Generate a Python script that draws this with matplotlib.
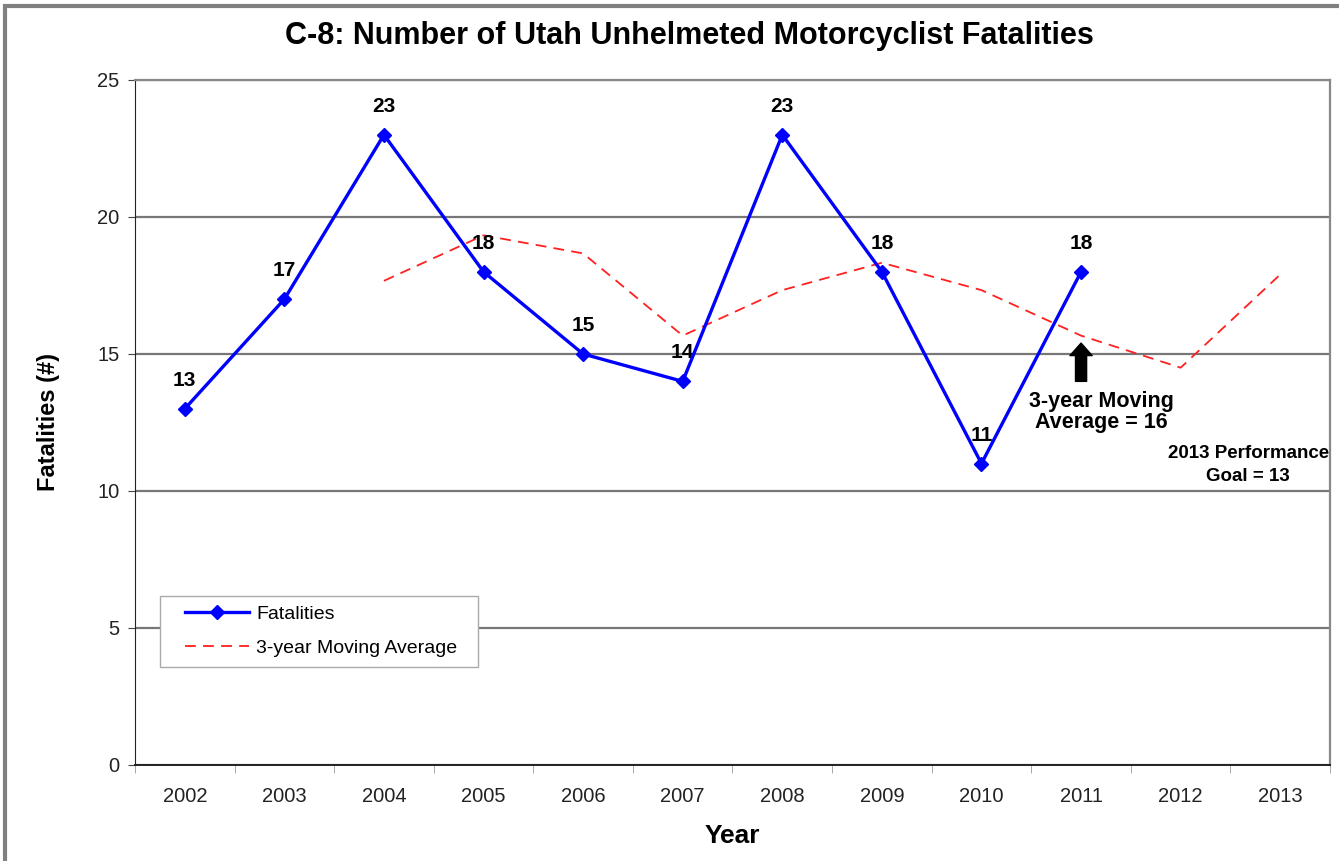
import matplotlib.pyplot as plt
from matplotlib.patches import Rectangle

years = ['2002', '2003', '2004', '2005', '2006', '2007',
         '2008', '2009', '2010', '2011', '2012', '2013']
fatalities = [13, 17, 23, 18, 15, 14, 23, 18, 11, 18]
moving_avg = [17.67, 19.33, 18.67, 15.67, 17.33, 18.33, 17.33, 15.67, 14.5, 17.9]
avg_start = 2  # moving average begins at 2004

plt.rcParams['font.family'] = ['Liberation Sans', 'DejaVu Sans']

fig = plt.figure(figsize=(13.39, 8.61), dpi=100)
ax = fig.add_axes([0.1008, 0.1115, 0.8925, 0.7956])

x_f = list(range(len(fatalities)))
x_m = list(range(avg_start, avg_start + len(moving_avg)))

ax.plot(x_f, fatalities, color='#0000ff', lw=2.4, marker='D', ms=7,
        label='Fatalities', zorder=4)
ax.plot(x_m, moving_avg, color='#ff2020', lw=1.3, dashes=(6, 4),
        label='3-year Moving Average', zorder=3)

for x, v in zip(x_f, fatalities):
    ax.annotate(str(v), (x, v), xytext=(0, 20.5), textcoords='offset points',
                ha='center', va='center', fontsize=15, fontweight='bold')

ax.set_xlim(-0.5, len(years) - 0.5)
ax.set_ylim(0, 25)
ax.set_yticks(range(0, 26, 5))
ax.set_xticks(range(len(years)))
ax.set_xticklabels(years)
ax.set_xticks([i - 0.5 for i in range(len(years) + 1)], minor=True)
ax.tick_params(axis='x', which='major', length=0, pad=16, labelsize=14.5, colors='#222222')
ax.tick_params(axis='x', which='minor', length=6, color='#999999')
ax.tick_params(axis='y', length=5, labelsize=14.5, colors='#444444',
               labelcolor='#222222', pad=6)

ax.yaxis.grid(True, color='#777777', lw=1.6)
ax.set_axisbelow(True)
for side in ['top', 'right']:
    ax.spines[side].set_color('#888888')
    ax.spines[side].set_linewidth(1.6)
ax.spines['left'].set_color('#222222')
ax.spines['bottom'].set_color('#222222')
ax.spines['bottom'].set_linewidth(1.4)

ax.set_xlabel('Year', fontsize=19, fontweight='bold', labelpad=13)
ax.set_ylabel('Fatalities (#)', fontsize=17, fontweight='bold', labelpad=27)

fig.text(0.515, 0.958, 'C-8: Number of Utah Unhelmeted Motorcyclist Fatalities',
         ha='center', va='center', fontsize=22, fontweight='bold')

# legend box drawn by hand so padding matches the original
ax.add_patch(Rectangle((0.021, 0.143), 0.266, 0.104, transform=ax.transAxes,
                       facecolor='white', edgecolor='#aaaaaa', lw=1.0, zorder=5))
leg = ax.legend(loc='center left', bbox_to_anchor=(0.042, 0.195), fontsize=14,
                frameon=False, handlelength=3.3, handletextpad=0.35,
                labelspacing=0.85, borderpad=0, borderaxespad=0)
leg.set_zorder(6)

# arrow and notes
ax.annotate('', xy=(9, 15.5), xytext=(9, 13.9),
            arrowprops=dict(arrowstyle='simple,head_width=1.6,head_length=0.9,tail_width=0.8',
                            color='black'))
ax.text(9.2, 12.9, '3-year Moving\nAverage = 16', ha='center', va='center',
        fontsize=15.5, fontweight='bold', linespacing=1.0)
ax.text(10.68, 10.95, '2013 Performance\nGoal = 13', ha='center', va='center',
        fontsize=13.5, fontweight='bold', linespacing=1.45)

# outer border of the page
fig.patches.append(Rectangle((5 / 1339, -0.1), 1.2, 1.1 - 6 / 861,
                             transform=fig.transFigure, fill=False,
                             edgecolor='#808080', lw=3))

fig.savefig('out.png', dpi=100)
